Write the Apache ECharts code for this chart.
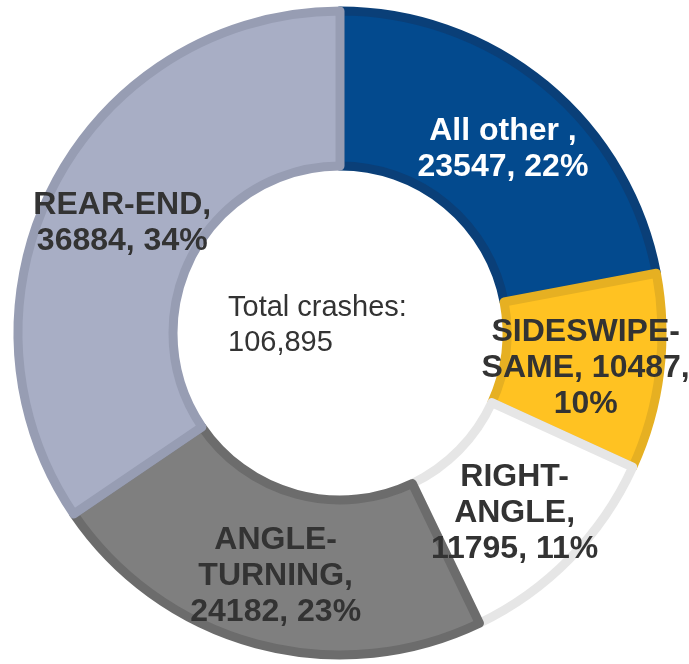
<!DOCTYPE html>
<html>
<head>
<meta charset="utf-8">
<script src="https://cdn.jsdelivr.net/npm/echarts@6/dist/echarts.min.js"></script>
<style>
  html, body { margin: 0; padding: 0; background: #ffffff; }
  #chart { width: 689px; height: 664px; }
</style>
</head>
<body>
<div id="chart"></div>
<script>
// Crash types, clockwise from 12 o'clock
const categories = ['All other ', 'SIDESWIPE-SAME', 'RIGHT-ANGLE', 'ANGLE-TURNING', 'REAR-END'];
const crashCounts = [23547, 10487, 11795, 24182, 36884];
const shares = ['22%', '10%', '11%', '23%', '34%'];
// Label text broken into lines as laid out inside each slice
const labelLines = [
  ['All other ,', '23547, 22%'],
  ['SIDESWIPE-', 'SAME, 10487,', '10%'],
  ['RIGHT-', 'ANGLE,', '11795, 11%'],
  ['ANGLE-', 'TURNING,', '24182, 23%'],
  ['REAR-END,', '36884, 34%']
];
const fillColors = ['#034a8e', '#ffc222', '#ffffff', '#7f7f7f', '#a8aec5'];
const borderColors = ['#0a3f78', '#e6b022', '#e6e6e6', '#6c6c6c', '#979db3'];
const labelColors = ['#ffffff', '#333333', '#333333', '#333333', '#333333'];
const labelShift = [[5, 7], [0, 5], [-2, 7], [0, 4], [1, 6]];
const totalCrashes = '106,895';

const font = '"Liberation Sans", Arial, sans-serif';

const chart = echarts.init(document.getElementById('chart'));
chart.setOption({
  backgroundColor: '#ffffff',
  animation: false,
  series: [{
    type: 'pie',
    center: [340, 333],
    radius: [167, 322],
    startAngle: 90,
    clockwise: true,
    avoidLabelOverlap: false,
    silent: true,
    label: {
      show: true,
      position: 'inside',
      fontFamily: font,
      fontWeight: 'bold',
      fontSize: 32,
      lineHeight: 36,
      align: 'center'
    },
    labelLine: { show: false },
    data: categories.map((name, i) => ({
      name: name,
      value: crashCounts[i],
      itemStyle: { color: fillColors[i], borderColor: borderColors[i], borderWidth: 9 },
      label: { formatter: labelLines[i].join('\n'), color: labelColors[i], offset: labelShift[i] }
    }))
  }],
  graphic: [{
    type: 'text',
    left: 228,
    top: 290,
    style: {
      text: 'Total crashes:\n' + totalCrashes,
      font: '29px ' + font,
      lineHeight: 35,
      fill: '#333333'
    }
  }]
});
</script>
</body>
</html>
